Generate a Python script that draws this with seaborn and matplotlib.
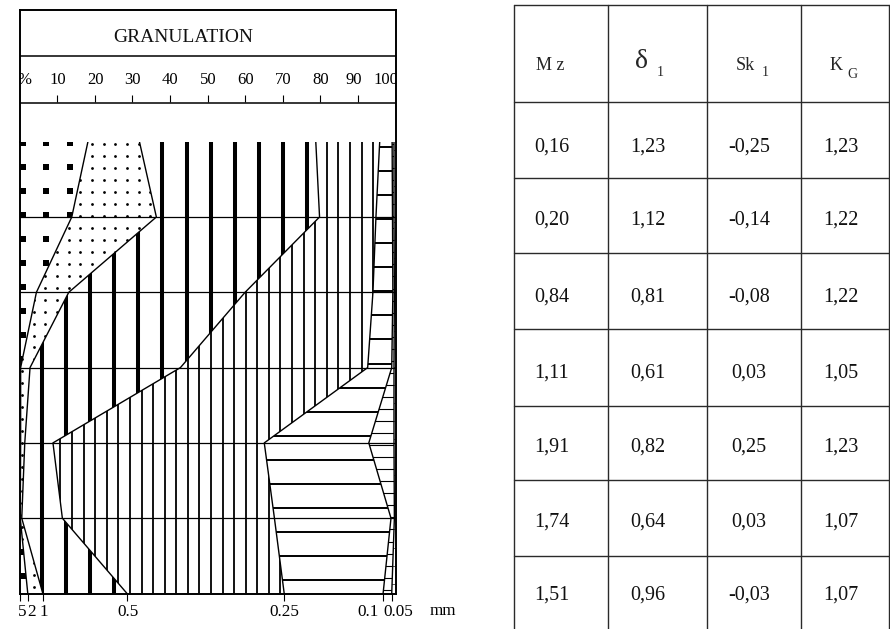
import numpy as np
import matplotlib
matplotlib.use("Agg")
import matplotlib.pyplot as plt
from matplotlib.patches import PathPatch
from matplotlib.collections import LineCollection
from matplotlib.transforms import ScaledTranslation
import seaborn as sns

# ---------------------------------------------------------------------------
# Grain-size data: cumulative percentage coarser than each sieve, per sample
# (samples listed from top to bottom of the profile)
# ---------------------------------------------------------------------------
levels = [0, 1, 2, 3, 4, 5, 6]
cum_5_2mm = [18.2, 13.9, 4.5, 0.3, 0.3, 0.2, 2.2]
cum_2_1mm = [31.9, 36.4, 13.1, 2.8, 1.4, 0.6, 6.2]
cum_1_05mm = [78.8, 79.8, 60.0, 42.8, 8.9, 11.4, 28.6]
cum_05_025mm = [95.8, 94.8, 94.0, 92.6, 65.1, 67.8, 70.4]
cum_025_01mm = [99.1, 99.2, 99.3, 99.0, 92.9, 98.8, 96.7]
cum_01_005mm = [99.6, 99.6, 99.7, 99.6, 99.6, 99.7, 99.0]

sieve_labels = ["5", "2", "1", "0.5", "0.25", "0.1", "0.05"]
pct_ticks = [10, 20, 30, 40, 50, 60, 70, 80, 90, 100]

# Granulometric parameters per sample
mz = ["0,16", "0,20", "0,84", "1,11", "1,91", "1,74", "1,51"]
sigma1 = ["1,23", "1,12", "0,81", "0,61", "0,82", "0,64", "0,96"]
sk1 = ["-0,25", "-0,14", "-0,08", "0,03", "0,25", "0,03", "-0,03"]
kg = ["1,23", "1,22", "1,22", "1,05", "1,23", "1,07", "1,07"]

# ---------------------------------------------------------------------------
sns.set_theme(style="white")
plt.rcParams["font.family"] = ["Liberation Serif", "DejaVu Serif"]
plt.rcParams["axes.linewidth"] = 1.1

W, H = 890, 629
fig = plt.figure(figsize=(W / 100, H / 100), dpi=100)


def frac(x0, y0, x1, y1):
    return [x0 / W, 1 - y1 / H, (x1 - x0) / W, (y1 - y0) / H]


XL, XR = 19.5, 395.5
YT, YB = 141.7, 593.5

# overlay in pixel coordinates for the table and loose labels
ov = fig.add_axes([0, 0, 1, 1], zorder=0)
ov.set_xlim(0, W)
ov.set_ylim(H, 0)
ov.axis("off")

# ----------------------------- profile -------------------------------------
ax = fig.add_axes(frac(XL, YT, XR, YB), zorder=2)
ax.set_xlim(0, 100)
ax.set_ylim(6, 0)

zeros = [0.0] * len(levels)
full = [100.0] * len(levels)
bounds = [zeros, cum_5_2mm, cum_2_1mm, cum_1_05mm, cum_05_025mm,
          cum_025_01mm, cum_01_005mm, full]

clips = []
for i in range(7):
    poly = ax.fill_betweenx(levels, bounds[i], bounds[i + 1],
                            facecolor="white", edgecolor="none", zorder=1)
    patch = PathPatch(poly.get_paths()[0], transform=ax.transData,
                      facecolor="none", edgecolor="none")
    ax.add_patch(patch)
    clips.append(patch)


def grid_markers(clip, x0, dx, y0, dy, marker, size):
    gx, gy = np.meshgrid(np.arange(x0, 100.5, dx), np.arange(y0, 6.05, dy))
    sc = ax.scatter(gx.ravel(), gy.ravel(), marker=marker, s=size,
                    c="black", linewidths=0, zorder=2)
    sc.set_clip_path(clip)


def vlines(clip, xs, lw):
    segs = [[(x, -0.2), (x, 6.2)] for x in xs]
    lc = LineCollection(segs, colors="black", linewidths=lw, zorder=2)
    ax.add_collection(lc)
    lc.set_clip_path(clip)


def hlines(clip, ys, lw, color="black"):
    segs = [[(-1, y), (101, y)] for y in ys]
    lc = LineCollection(segs, colors=color, linewidths=lw, zorder=2)
    ax.add_collection(lc)
    lc.set_clip_path(clip)


# 5-2 mm: square dots
grid_markers(clips[0], 0.8, 6.37, 0.02, 0.319, "s", 17)
# 2-1 mm: fine dots
grid_markers(clips[1], 0.7, 3.1, 0.03, 0.159, "o", 4)
# 1-0.5 mm: heavy vertical rules
vlines(clips[2], np.arange(5.9, 101, 6.42), 2.9)
# 0.5-0.25 mm: light vertical rules
vlines(clips[3], np.arange(94.05, -1, -3.08), 1.3)
# 0.25-0.1 mm: horizontal rules
hlines(clips[4], np.arange(0.066, 6.1, 0.32), 1.4)
# 0.1-0.05 mm: close horizontal rules
hlines(clips[5], np.arange(0.03, 6.1, 0.16), 0.8)
# < 0.05 mm
hlines(clips[6], np.arange(0.11, 6.1, 0.24), 0.6, color="#444444")

# boundary curves between size classes
for b in bounds[1:-1]:
    sns.lineplot(x=b, y=levels, orient="y", estimator=None, sort=False,
                 color="black", linewidth=1.0, ax=ax, zorder=4, legend=False)

# sample level rules
ax.hlines(levels[1:-1], 0, 100, color="black", linewidth=0.9, zorder=4)

for side in ["left", "right", "bottom"]:
    ax.spines[side].set_visible(True)
    ax.spines[side].set_color("black")
    ax.spines[side].set_linewidth(1.4)
    ax.spines[side].set_zorder(5)
ax.spines["top"].set_visible(False)
ax.set_yticks([])
ax.set_xlabel("")
ax.set_ylabel("")

# sieve marks along the base of the profile
base_ticks = [0.0] + [b[-1] for b in bounds[1:-1]]
ax.set_xticks(base_ticks)
ax.set_xticklabels(sieve_labels)
ax.tick_params(axis="x", bottom=True, direction="out", length=5, width=0.8,
               color="black", pad=2.5, labelsize=12.3, labelcolor="black")
label_shift = [3, 4, 1, 1, 0, -15, 7]
for lab, dx in zip(ax.get_xticklabels(), label_shift):
    lab.set_transform(lab.get_transform() +
                      ScaledTranslation(dx / 100, 0, fig.dpi_scale_trans))
ov.text(443, 611, "mm", ha="center", va="center", fontsize=12.3,
        color="black")

# ----------------------------- header --------------------------------------
hd = fig.add_axes(frac(XL, 10, XR, YT), zorder=2)
hd.set_xlim(0, 100)
hd.set_ylim(YT, 10)
hd.set_xticks([])
hd.set_yticks([])
for side in ["left", "right", "top"]:
    hd.spines[side].set_visible(True)
    hd.spines[side].set_color("black")
    hd.spines[side].set_linewidth(1.4)
hd.spines["bottom"].set_visible(False)
hd.axhline(56, color="black", linewidth=1.1)
hd.axhline(103.3, color="black", linewidth=1.1)
hd.text(43.5, 37, "GRANULATION", ha="center", va="center", fontsize=14,
        color="#111111")
hd.vlines(pct_ticks[:-1], 95, 101.7, color="black", linewidth=0.8)
pct_shift = {90: -1.2, 100: -2.5}
hd.text(1.2, 80.5, "%", ha="center", va="center", fontsize=12,
        color="black", clip_on=True)
for p in pct_ticks:
    hd.text(p + pct_shift.get(p, 0.1), 80.5, str(p), ha="center",
            va="center", fontsize=12, color="black", clip_on=True)

# ----------------------------- table ---------------------------------------
col_edges = [514, 608, 707, 801, 888.5]
row_edges = [5, 102, 178, 253, 329, 406, 480, 556]
line_kw = dict(color="#2a2a2a", linewidth=1.0)
for x in col_edges:
    ov.plot([x, x], [row_edges[0], H], **line_kw)
for y in row_edges:
    ov.plot([col_edges[0], col_edges[-1]], [y, y], **line_kw)

# column headings
ov.text(550, 66, "M z", ha="center", va="center", fontsize=13)
ov.text(641, 61, "δ", ha="center", va="center", fontsize=20)
ov.text(660, 72, "1", ha="center", va="center", fontsize=10)
ov.text(745, 66, "Sk", ha="center", va="center", fontsize=13)
ov.text(765, 73, "1", ha="center", va="center", fontsize=10)
ov.text(836, 66, "K", ha="center", va="center", fontsize=13)
ov.text(852, 74, "G", ha="center", va="center", fontsize=10)

col_x = [552, 648, 749, 841]
row_y = [147, 220, 297, 373, 447, 522, 595]
for cx, col in zip(col_x, [mz, sigma1, sk1, kg]):
    for ry, val in zip(row_y, col):
        ov.text(cx, ry, val, ha="center", va="center", fontsize=14.5,
                color="#111111")

fig.savefig("out.png", dpi=100)
